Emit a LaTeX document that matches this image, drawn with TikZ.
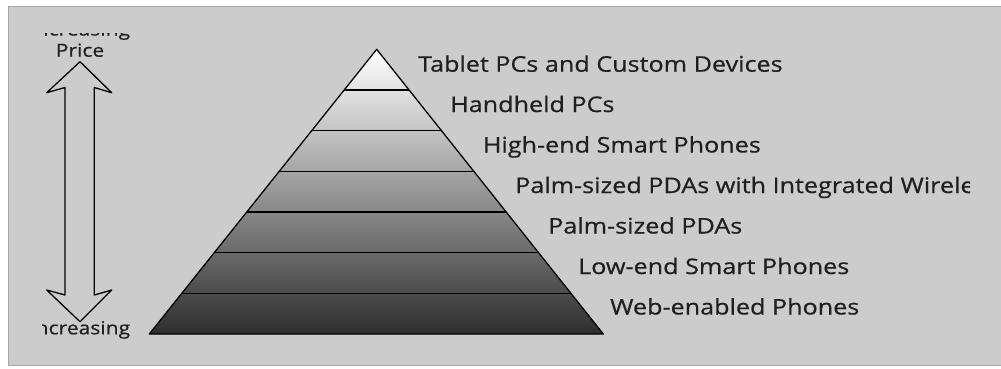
\documentclass[tikz,border=0pt]{standalone}
\usepackage{fontspec}
\setmainfont{Open Sans}[FakeStretch=1.17,FakeBold=0.6]
\usetikzlibrary{calc}
\definecolor{bg}{HTML}{CCCCCC}
\begin{document}
\begin{tikzpicture}[x=1pt,y=-1pt, line join=round,
  lbl/.style={anchor=base west, inner sep=0pt, text=black!88, font=\fontsize{21.5}{24}\selectfont},
  side/.style={anchor=base, inner sep=0pt, text=black!88, font=\fontsize{18}{21}\selectfont},
  ln/.style={line width=1.3pt}]
\useasboundingbox (0,0) rectangle (1001,368);
\fill[white] (0,0) rectangle (1001,368);
\draw[fill=bg, draw=black!35, line width=0.8pt] (8,6) rectangle (1003,365);
% pyramid
\coordinate (A) at (376.7,49.3);
\coordinate (BL) at (149.3,334);
\coordinate (BR) at (603.3,334);
\shade[top color=white, bottom color=black!82] (A) -- (BR) -- (BL) -- cycle;
\foreach \k in {1,...,6} \draw[ln] ($(A)!\k/7!(BL)$) -- ($(A)!\k/7!(BR)$);
\draw[ln] (A) -- (BR) -- (BL) -- cycle;
% labels
\node[lbl] (l1) at (418,71.7) {Tablet PCs and Custom Devices};
\node[lbl] (l2) at (450,112) {Handheld PCs};
\node[lbl] (l3) at (482.7,152.5) {High-end Smart Phones};
\begin{scope}
\clip (0,0) rectangle (970,368);
\node[lbl] (l4) at (515,193) {Palm-sized PDAs with Integrated Wireless};
\end{scope}
\node[lbl] (l5) at (548,233.5) {Palm-sized PDAs};
\node[lbl] (l6) at (578,274) {Low-end Smart Phones};
\node[lbl] (l7) at (610,314.5) {Web-enabled Phones};
% double arrow
\draw[ln] (80,61.7) -- (111.7,92.7) -- (94.3,87.5) -- (94.3,295) -- (111.7,290) -- (80,321.7) -- (46.7,290) -- (65,295) -- (65,87.5) -- (46.7,92.7) -- cycle;
\begin{scope}
\clip (42,33) rectangle (200,345);
\node[side] (inc1) at (80,35.5) {Increasing};
\node[side] (price) at (80,56.7) {Price};
\node[side] (inc2) at (80,334.3) {Increasing};
\end{scope}
\end{tikzpicture}
\end{document}
